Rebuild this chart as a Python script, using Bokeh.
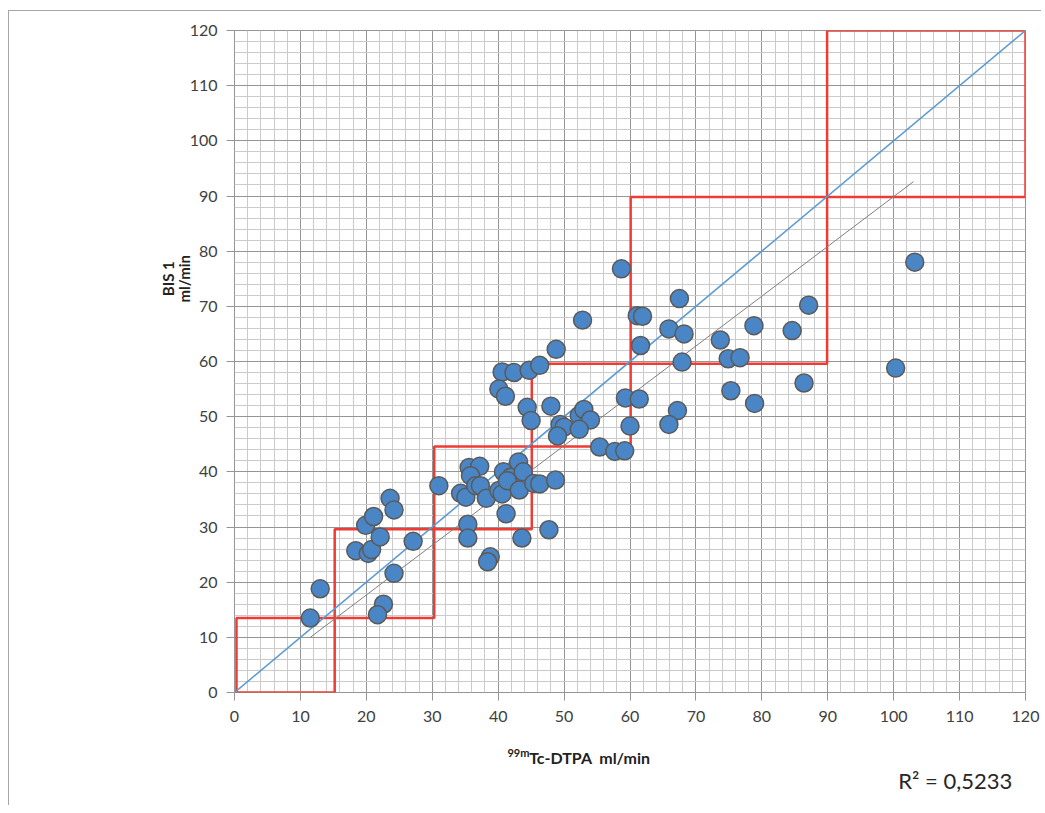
from bokeh.plotting import figure
from bokeh.models import SingleIntervalTicker, Label, Range1d
from bokeh.embed import file_html
from bokeh.resources import INLINE

# --- data ---
tc_dtpa = [11.5, 13.0, 18.4, 20.3, 20.8, 19.9, 21.1, 22.1, 23.6, 24.2,
           24.2, 22.6, 21.7, 27.1, 31.0, 34.3, 35.1, 35.4, 35.4, 38.8,
           38.4, 35.6, 37.2, 35.8, 36.6, 37.3, 38.2, 40.8, 41.9, 40.1,
           40.6, 41.4, 43.1, 43.8, 43.2, 45.4, 46.3, 48.7, 41.2, 43.6,
           47.7, 40.6, 42.4, 44.7, 46.3, 40.1, 41.1, 44.4, 45.0, 48.0,
           49.4, 50.0, 49.0, 52.3, 53.0, 54.0, 52.3, 55.4, 57.7, 59.2,
           59.3, 61.4, 60.0, 48.8, 52.8, 61.1, 61.9, 61.6, 58.7, 67.5,
           65.9, 68.2, 67.9, 73.7, 78.8, 84.6, 87.1, 74.9, 76.7, 75.3,
           78.9, 67.2, 65.9, 86.4, 100.3, 103.2]
bis1 = [13.5, 18.8, 25.7, 25.2, 25.9, 30.3, 31.9, 28.2, 35.2, 33.1,
        21.6, 16.0, 14.1, 27.4, 37.5, 36.1, 35.4, 30.5, 28.0, 24.6,
        23.7, 40.8, 41.0, 39.3, 37.5, 37.5, 35.2, 40.0, 39.0, 36.6,
        36.0, 38.4, 41.8, 40.0, 36.7, 37.9, 37.8, 38.5, 32.4, 28.0,
        29.5, 58.1, 58.0, 58.4, 59.3, 55.0, 53.7, 51.7, 49.3, 51.9,
        48.6, 48.1, 46.5, 50.2, 51.3, 49.4, 47.7, 44.5, 43.7, 43.8,
        53.4, 53.2, 48.3, 62.2, 67.5, 68.3, 68.2, 62.9, 76.8, 71.4,
        65.9, 65.0, 59.9, 63.9, 66.5, 65.6, 70.2, 60.5, 60.7, 54.7,
        52.4, 51.1, 48.6, 56.1, 58.8, 78.0]

# stage boxes (edges along the diagonal)
box_x_edges = [0.3, 15.2, 30.3, 45.1, 60.1, 89.9, 120.0]
box_y_edges = [0.0, 13.5, 29.6, 44.6, 59.6, 89.8, 120.0]

identity_x = [0, 120]
identity_y = [0, 120]
trend_x = [11.5, 103.0]
trend_y = [10.0, 92.6]

r2_text = "R\u00b2 = 0,5233"
x_label_sup = "99m"
x_label_main = "Tc-DTPA\u00a0\u00a0ml/min"
y_label_1 = "BIS 1"
y_label_2 = "ml/min"

FONT = "Lato"
MAJOR = "#959595"
MINOR = "#cbcbcb"

p = figure(width=1041, height=805, output_backend="svg", toolbar_location=None,
           x_range=Range1d(0, 120), y_range=Range1d(0, 120),
           min_border_left=234, min_border_right=16,
           min_border_top=30, min_border_bottom=113)
# thin frame around the chart object (left and top visible, as in the picture)
p.styles = {"box-shadow": "inset 8px 10px 0 0 white, inset 9px 11px 0 0 #a6a6a6"}
p.background_fill_color = "white"
p.border_fill_color = None
p.outline_line_color = MAJOR
p.outline_line_width = 1

for ax, grid in ((p.xaxis, p.xgrid), (p.yaxis, p.ygrid)):
    t = SingleIntervalTicker(interval=10, num_minor_ticks=5)
    ax.ticker = t
    grid.ticker = t
    grid.grid_line_color = MAJOR
    grid.grid_line_width = 1
    grid.minor_grid_line_color = MINOR
    grid.minor_grid_line_width = 1
    ax.axis_line_color = None
    ax.major_tick_line_color = MAJOR
    ax.major_tick_out = 8
    ax.major_tick_in = 0
    ax.minor_tick_line_color = None
    ax.major_label_text_font = FONT
    ax.major_label_text_font_size = "16px"
    ax.major_label_text_color = "#404040"

p.yaxis.major_label_standoff = 9
p.xaxis.major_label_standoff = 10

# red stage boxes
p.quad(left=box_x_edges[:-1], right=box_x_edges[1:],
       bottom=box_y_edges[:-1], top=box_y_edges[1:],
       fill_color=None, line_color="#ee3b33", line_width=2.5)

# identity line and trend line
p.line(identity_x, identity_y, line_color="#5b9bd5", line_width=1.6)
p.line(trend_x, trend_y, line_color="#7f7f7f", line_width=1)

# points
p.scatter(tc_dtpa, bis1, size=18, fill_color="#4a86c5", line_color="#5a5a5a",
          line_width=1.5)

# axis titles as labels placed in side panels (not clipped to the frame)
p.add_layout(Label(x=41.4, y=-10.8, text=x_label_sup, text_font=FONT,
                   text_font_style="bold", text_font_size="11px",
                   text_color="#222222", text_align="left", text_baseline="middle"),
             "below")
p.add_layout(Label(x=44.7, y=-11.7, text=x_label_main, text_font=FONT,
                   text_font_style="bold", text_font_size="16px",
                   text_color="#222222", text_align="left", text_baseline="middle"),
             "below")
p.add_layout(Label(x=100.7, y=-16.0, text=r2_text, text_font=FONT,
                   text_font_size="22px", text_color="#262626",
                   text_align="left", text_baseline="middle"),
             "below")
p.add_layout(Label(x=-10.1, y=75.0, text=y_label_1, angle=1.5708, text_font=FONT,
                   text_font_style="bold", text_font_size="15px",
                   text_color="#222222", text_align="center", text_baseline="middle"),
             "left")
p.add_layout(Label(x=-7.6, y=75.0, text=y_label_2, angle=1.5708, text_font=FONT,
                   text_font_style="bold", text_font_size="15px",
                   text_color="#222222", text_align="center", text_baseline="middle"),
             "left")

open("out.html", "w").write(file_html(p, INLINE))
